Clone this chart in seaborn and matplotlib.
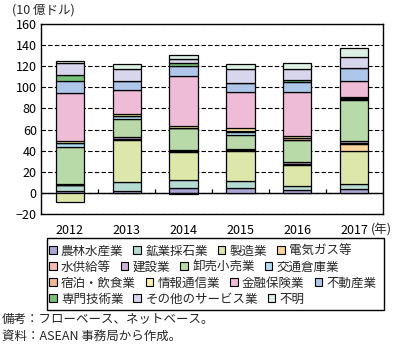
import numpy as np
import pandas as pd
import matplotlib
matplotlib.use("Agg")
import matplotlib.pyplot as plt
import seaborn as sns
from matplotlib.patches import Patch, Rectangle

years = ["2012", "2013", "2014", "2015", "2016", "2017"]

sectors = ["農林水産業", "鉱業採石業", "製造業", "電気ガス等",
           "水供給等", "建設業", "卸売小売業", "交通倉庫業",
           "宿泊・飲食業", "情報通信業", "金融保険業", "不動産業",
           "専門技術業", "その他のサービス業", "不明"]

agri      = [1.5, 1.5, 4.7, 4.7, 3.1, 3.8]
mining    = [5.7, 8.9, 7.6, 6.6, 3.8, 5.0]
manuf     = [-8.5, 39.3, 26.4, 28.6, 19.5, 31.1]
elec      = [0.4, 1.0, 0.8, 0.8, 0.8, 6.3]
water     = [0.3, 0.6, -0.8, 0.3, 0.4, 1.2]
constr    = [0.6, 1.5, 1.4, 0.8, 1.3, 1.9]
trade     = [34.9, 17.0, 20.4, 12.6, 20.8, 38.8]
transport = [3.8, 2.8, 0.3, 3.5, 0.8, 0.8]
hotel     = [0.5, 0.3, 0.3, 1.2, 1.5, 1.2]
info      = [1.7, 1.9, 1.9, 2.2, 2.1, 0.8]
finance   = [44.9, 22.4, 46.9, 34.0, 41.2, 15.1]
realestate = [11.4, 9.1, 9.7, 8.5, 10.0, 11.9]
prof      = [5.6, 0.0, 2.2, 0.0, 1.3, 0.7]
other     = [11.3, 11.3, 3.8, 13.2, 10.7, 10.3]
unknown   = [1.9, 4.1, 3.8, 4.7, 5.6, 7.9]

series = [agri, mining, manuf, elec, water, constr, trade, transport,
          hotel, info, finance, realestate, prof, other, unknown]

colors = ["#aaa7d4", "#b5dcd3", "#dce7a9", "#f8d49b", "#f3bdb5", "#cfb0d9",
          "#b8d9a8", "#b0dcf2", "#f0b895", "#fdf2a8", "#efbcd8", "#aec6ea",
          "#78c07a", "#d8d6ec", "#dcefe4"]

sns.set_style("white")
plt.rcParams["font.family"] = ["Noto Sans CJK JP", "DejaVu Sans"]

W, H = 398, 347
fig = plt.figure(figsize=(W / 100, H / 100), dpi=100)
ax = fig.add_axes([41 / W, 1 - 214 / H, (383 - 41) / W, (214 - 24) / H])

pos_base = np.zeros(len(years))
neg_base = np.zeros(len(years))
for name, vals, col in zip(sectors, series, colors):
    v = np.array(vals, dtype=float)
    bottom = np.where(v >= 0, pos_base, neg_base)
    sns.barplot(x=years, y=v, bottom=bottom, order=years, color=col,
                saturation=1, edgecolor="black", linewidth=0.9, width=0.5,
                errorbar=None, ax=ax, zorder=3)
    pos_base += np.where(v >= 0, v, 0)
    neg_base += np.where(v < 0, v, 0)

ax.set_xlim(-0.51, 5.51)
ax.set_ylim(-20, 160)
ax.set_yticks(np.arange(-20, 161, 20))
ax.set_xticks(range(len(years)))
ax.set_xticklabels(years)
ax.set_xlabel("")
ax.set_ylabel("")
ax.tick_params(axis="y", length=0, pad=3, labelsize=9, colors="black")
ax.tick_params(axis="x", length=0, pad=7, labelsize=9, colors="black")

ax.set_axisbelow(True)
ax.yaxis.grid(True, linestyle=(0, (4, 2)), color="black", linewidth=0.8)
ax.axhline(0, color="black", linewidth=1.0, zorder=2)
ax.vlines(np.arange(0.5, len(years) - 1), 0, 3.8, color="black",
          linewidth=0.9, zorder=2)
for s in ax.spines.values():
    s.set_visible(True)
    s.set_color("black")
    s.set_linewidth(1.0)

fig.text(12 / W, 1 - 10 / H, "(10 億ドル)", fontsize=9, va="center", ha="left")
fig.text(371 / W, 1 - 230 / H, "(年)", fontsize=9, va="center", ha="left")

# legend in 4 flowing rows
rows = [[0, 1, 2, 3], [4, 5, 6, 7], [8, 9, 10, 11], [12, 13, 14]]
row_y = [251, 267, 283, 299]
for idxs, ry in zip(rows, row_y):
    handles = [Patch(facecolor=colors[i], edgecolor="black", linewidth=0.8)
               for i in idxs]
    labels = [sectors[i] for i in idxs]
    fig.legend(handles, labels, loc="center left",
               bbox_to_anchor=(49 / W, 1 - ry / H), ncol=len(idxs),
               frameon=False, fontsize=9, handlelength=0.6, handleheight=0.6,
               handletextpad=0.35, columnspacing=0.8, borderpad=0,
               borderaxespad=0)
fig.add_artist(Rectangle((47 / W, 1 - 310 / H), (384 - 47) / W, (310 - 238) / H,
                         transform=fig.transFigure, fill=False,
                         edgecolor="black", linewidth=1.0))

fig.text(2 / W, 1 - 319 / H, "備考：フローベース、ネットベース。", fontsize=9,
         va="center", ha="left")
fig.text(2 / W, 1 - 336 / H, "資料：ASEAN 事務局から作成。", fontsize=9,
         va="center", ha="left")

fig.savefig("out.png", dpi=100)
